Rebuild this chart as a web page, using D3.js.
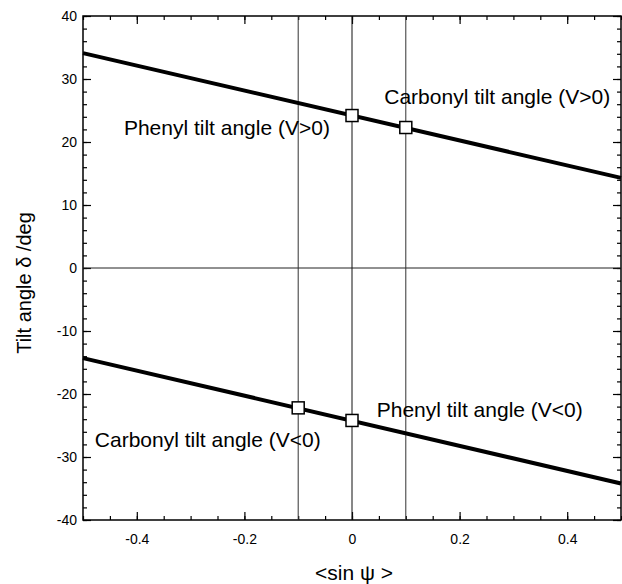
<!DOCTYPE html>
<html>
<head>
<meta charset="utf-8">
<script src="https://cdn.jsdelivr.net/npm/d3@7"></script>
<style>
  body { margin: 0; background: #fff; }
  text { font-family: Arial, "Liberation Sans", sans-serif; fill: #000; }
</style>
</head>
<body>
<svg id="chart" width="622" height="584"></svg>
<script>
// line ends (x = -0.5 and x = 0.5)
const upperLine = [{ x: -0.5, y: 34.1 }, { x: 0.5, y: 14.3 }];
const lowerLine = [{ x: -0.5, y: -14.3 }, { x: 0.5, y: -34.2 }];
// marked points
const markers = [
  { x: 0, y: 24.2 },
  { x: 0.1, y: 22.3 },
  { x: -0.1, y: -22.2 },
  { x: 0, y: -24.2 }
];
const guideX = [-0.1, 0, 0.1];
const xTicks = [-0.4, -0.2, 0, 0.2, 0.4];
const yTicks = [-40, -30, -20, -10, 0, 10, 20, 30, 40];
const labels = [
  { text: 'Phenyl tilt angle (V>0)', x: -0.424, y: 21.1 },
  { text: 'Carbonyl tilt angle (V>0)', x: 0.06, y: 26.0 },
  { text: 'Phenyl tilt angle (V<0)', x: 0.046, y: -23.7 },
  { text: 'Carbonyl tilt angle (V<0)', x: -0.478, y: -28.4 }
];

const svg = d3.select('#chart');
const mLeft = 83, mRight = 621, mTop = 16, mBottom = 520;

const x = d3.scaleLinear().domain([-0.5, 0.5]).range([mLeft, mRight]);
const y = d3.scaleLinear().domain([-40, 40]).range([mBottom, mTop]);

// minor ticks
const xMinor = d3.range(-0.5, 0.5001, 0.05);
const yMinor = d3.range(-40, 40.001, 2);

// plain hyphen for negatives, like the original
const fmtX = (d) => (d === 0 ? '0' : d3.format('.1f')(d).replace('\u2212', '-'));
const fmtY = (d) => String(d);

// bottom axis
svg.append('g')
  .attr('transform', `translate(0,${mBottom})`)
  .call(d3.axisTop(x).tickValues(xMinor).tickSize(4).tickFormat(''))
  .call((g) => g.select('.domain').remove());
svg.append('g')
  .attr('transform', `translate(0,${mBottom})`)
  .call(d3.axisTop(x).tickValues(xTicks).tickSize(8).tickFormat(''))
  .call((g) => g.select('.domain').remove());
svg.append('g')
  .attr('transform', `translate(0,${mBottom})`)
  .call(d3.axisBottom(x).tickValues(xTicks).tickSize(0).tickPadding(14).tickFormat(fmtX))
  .call((g) => g.select('.domain').remove())
  .call((g) => g.selectAll('text').attr('font-size', 14));

// top axis
svg.append('g')
  .attr('transform', `translate(0,${mTop})`)
  .call(d3.axisBottom(x).tickValues(xMinor).tickSize(4).tickFormat(''))
  .call((g) => g.select('.domain').remove());
svg.append('g')
  .attr('transform', `translate(0,${mTop})`)
  .call(d3.axisBottom(x).tickValues(xTicks).tickSize(8).tickFormat(''))
  .call((g) => g.select('.domain').remove());

// left axis
svg.append('g')
  .attr('transform', `translate(${mLeft},0)`)
  .call(d3.axisRight(y).tickValues(yMinor).tickSize(4).tickFormat(''))
  .call((g) => g.select('.domain').remove());
svg.append('g')
  .attr('transform', `translate(${mLeft},0)`)
  .call(d3.axisRight(y).tickValues(yTicks).tickSize(8).tickFormat(''))
  .call((g) => g.select('.domain').remove());
svg.append('g')
  .attr('transform', `translate(${mLeft},0)`)
  .call(d3.axisLeft(y).tickValues(yTicks).tickSize(0).tickPadding(6).tickFormat(fmtY))
  .call((g) => g.select('.domain').remove())
  .call((g) => g.selectAll('text').attr('font-size', 14));

// right axis
svg.append('g')
  .attr('transform', `translate(${mRight},0)`)
  .call(d3.axisLeft(y).tickValues(yMinor).tickSize(4).tickFormat(''))
  .call((g) => g.select('.domain').remove());
svg.append('g')
  .attr('transform', `translate(${mRight},0)`)
  .call(d3.axisLeft(y).tickValues(yTicks).tickSize(8).tickFormat(''))
  .call((g) => g.select('.domain').remove());

svg.selectAll('.tick line').attr('stroke', '#000').attr('stroke-width', 1.2);

// frame
svg.append('rect')
  .attr('x', mLeft).attr('y', mTop)
  .attr('width', mRight - mLeft).attr('height', mBottom - mTop)
  .attr('fill', 'none').attr('stroke', '#000').attr('stroke-width', 1.5);

// zero line
svg.append('line')
  .attr('x1', mLeft).attr('x2', mRight)
  .attr('y1', y(0)).attr('y2', y(0))
  .attr('stroke', '#222').attr('stroke-width', 1);

// vertical guides
svg.selectAll('.guide')
  .data(guideX)
  .enter()
  .append('line')
  .attr('x1', (d) => x(d)).attr('x2', (d) => x(d))
  .attr('y1', mTop).attr('y2', mBottom)
  .attr('stroke', (d) => (d === 0 ? '#111' : '#333'))
  .attr('stroke-width', 1);

// the two lines
const line = d3.line().x((d) => x(d.x)).y((d) => y(d.y));
[upperLine, lowerLine].forEach((data) => {
  svg.append('path')
    .datum(data)
    .attr('d', line)
    .attr('fill', 'none')
    .attr('stroke', '#000')
    .attr('stroke-width', 4);
});

// square markers
const sz = 12;
svg.selectAll('.marker')
  .data(markers)
  .enter()
  .append('rect')
  .attr('x', (d) => x(d.x) - sz / 2)
  .attr('y', (d) => y(d.y) - sz / 2)
  .attr('width', sz).attr('height', sz)
  .attr('fill', '#fff')
  .attr('stroke', '#000')
  .attr('stroke-width', 1.5);

// annotations
svg.selectAll('.note')
  .data(labels)
  .enter()
  .append('text')
  .attr('x', (d) => x(d.x))
  .attr('y', (d) => y(d.y))
  .attr('font-size', 21)
  .text((d) => d.text);

// axis titles
svg.append('text')
  .attr('x', (mLeft + mRight) / 2 + 2)
  .attr('y', 580)
  .attr('text-anchor', 'middle')
  .attr('font-size', 21)
  .text('<sin \u03C8 >');

svg.append('text')
  .attr('transform', `translate(31,283) rotate(-90)`)
  .attr('text-anchor', 'middle')
  .attr('font-size', 20)
  .text('Tilt angle \u03B4 /deg');
</script>
</body>
</html>
